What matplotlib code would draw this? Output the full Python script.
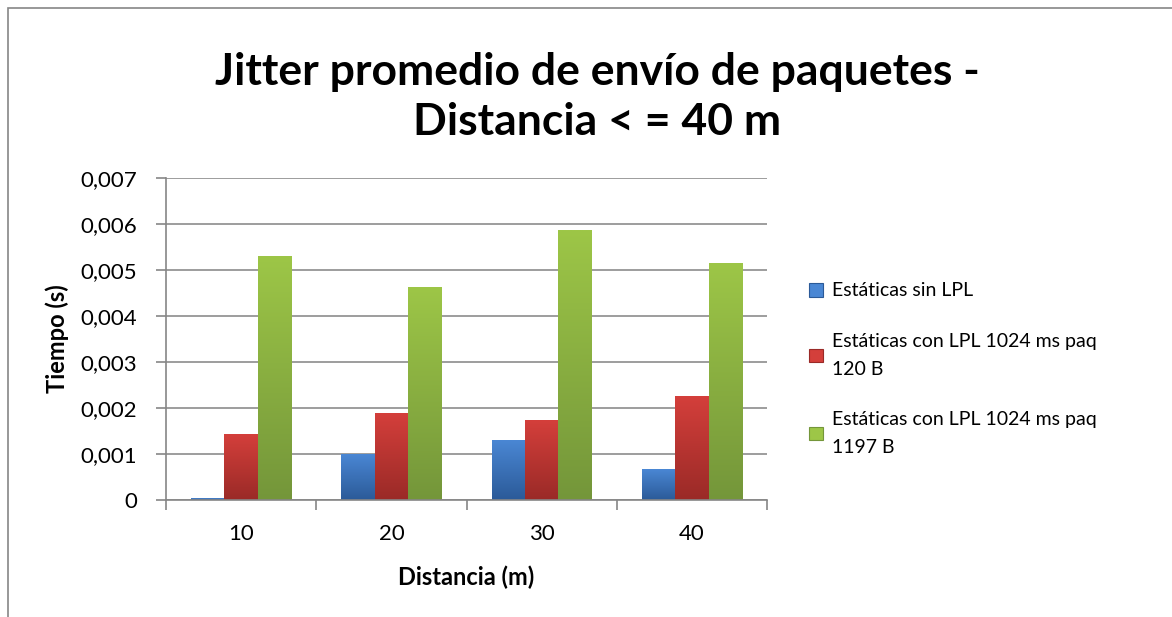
import matplotlib.pyplot as plt
import numpy as np
from matplotlib.colors import LinearSegmentedColormap
from matplotlib.patches import Rectangle

# datos
distancias = ["10", "20", "30", "40"]
sin_lpl = [0.00003, 0.00100, 0.00130, 0.00067]
lpl_120 = [0.00143, 0.00187, 0.00172, 0.00226]
lpl_1197 = [0.00530, 0.00463, 0.00585, 0.00515]
series = ["Estáticas sin LPL",
          "Estáticas con LPL 1024 ms paq\n120 B",
          "Estáticas con LPL 1024 ms paq\n1197 B"]
yticks = [0, 0.001, 0.002, 0.003, 0.004, 0.005, 0.006, 0.007]
ytick_labels = ["0", "0,001", "0,002", "0,003", "0,004", "0,005", "0,006", "0,007"]

# colores (arriba, abajo) para el degradado
colores = [("#4a87d4", "#2b5a98"), ("#d43f3b", "#9a2a27"), ("#9dc647", "#74963a")]

plt.rcParams['font.family'] = ['Lato', 'DejaVu Sans']

fig = plt.figure(figsize=(11.72, 6.17), dpi=100)
# borde del grafico
fig.patches.append(Rectangle((8 / 1172, -0.1), 1.2, 1 - 8 / 617 + 0.1,
                             transform=fig.transFigure, fill=False,
                             edgecolor="#868686", linewidth=1.2))

ax = fig.add_axes([166 / 1172, 1 - 500 / 617, 601 / 1172, 322 / 617])

x = np.arange(len(distancias))
w = 1 / 4.5
datos = [sin_lpl, lpl_120, lpl_1197]
handles = []
for i, (vals, (c_top, c_bot)) in enumerate(zip(datos, colores)):
    bars = ax.bar(x + (i - 1) * w, vals, width=w, color=c_top, zorder=2,
                  label=series[i])
    cmap = LinearSegmentedColormap.from_list("g%d" % i, [c_bot, c_top])
    grad = np.linspace(0, 1, 256).reshape(-1, 1)
    for b in bars:
        bx, bw, bh = b.get_x(), b.get_width(), b.get_height()
        ax.imshow(grad, cmap=cmap, origin="lower", aspect="auto", zorder=3,
                  extent=(bx, bx + bw, 0, bh), interpolation="bilinear")
    handles.append(Rectangle((0, 0), 1, 1, facecolor=c_top,
                             edgecolor=c_bot, linewidth=0.8))

ax.set_xlim(-0.5, len(distancias) - 0.5)
ax.set_ylim(0, 0.007)
ax.set_yticks(yticks)
ax.set_yticklabels(ytick_labels, fontsize=16)
ax.set_xticks(x)
ax.set_xticklabels(distancias, fontsize=16)
ax.set_xticks(np.arange(-0.5, len(distancias)), minor=True)
ax.tick_params(axis="x", which="major", length=0, pad=17)
ax.tick_params(axis="x", which="minor", length=7, color="#868686", width=1.2)
ax.tick_params(axis="y", length=7, color="#868686", width=1.2, pad=14)

ax.grid(axis="y", color="#8c8c8c", linewidth=1.2, zorder=0)
ax.set_axisbelow(True)
for s in ["top", "right"]:
    ax.spines[s].set_visible(False)
for s in ["left", "bottom"]:
    ax.spines[s].set_color("#868686")
    ax.spines[s].set_linewidth(1.2)
    ax.spines[s].set_zorder(4)

ax.set_xlabel("Distancia (m)", fontsize=17, fontweight="bold")
ax.set_ylabel("Tiempo (s)", fontsize=17, fontweight="bold")
ax.xaxis.set_label_coords(0.5, -77 / 322)
ax.xaxis.label.set_va("center")
ax.yaxis.set_label_coords(-109 / 601, 0.5)
ax.yaxis.label.set_va("center")

fig.text(597 / 1172, 1 - 97 / 617,
         "Jitter promedio de envío de paquetes -\nDistancia < = 40 m",
         ha="center", va="center", fontsize=32, fontweight="bold",
         linespacing=1.3)

leg = fig.legend(handles, series, loc="upper left",
                 bbox_to_anchor=(792 / 1172, 1 - 265 / 617),
                 frameon=False, fontsize=14, handlelength=0.7, handleheight=0.7,
                 handletextpad=0.45, labelspacing=1.7)
for t in leg.get_texts():
    t.set_linespacing(1.8)

fig.savefig("out.png", dpi=100)
